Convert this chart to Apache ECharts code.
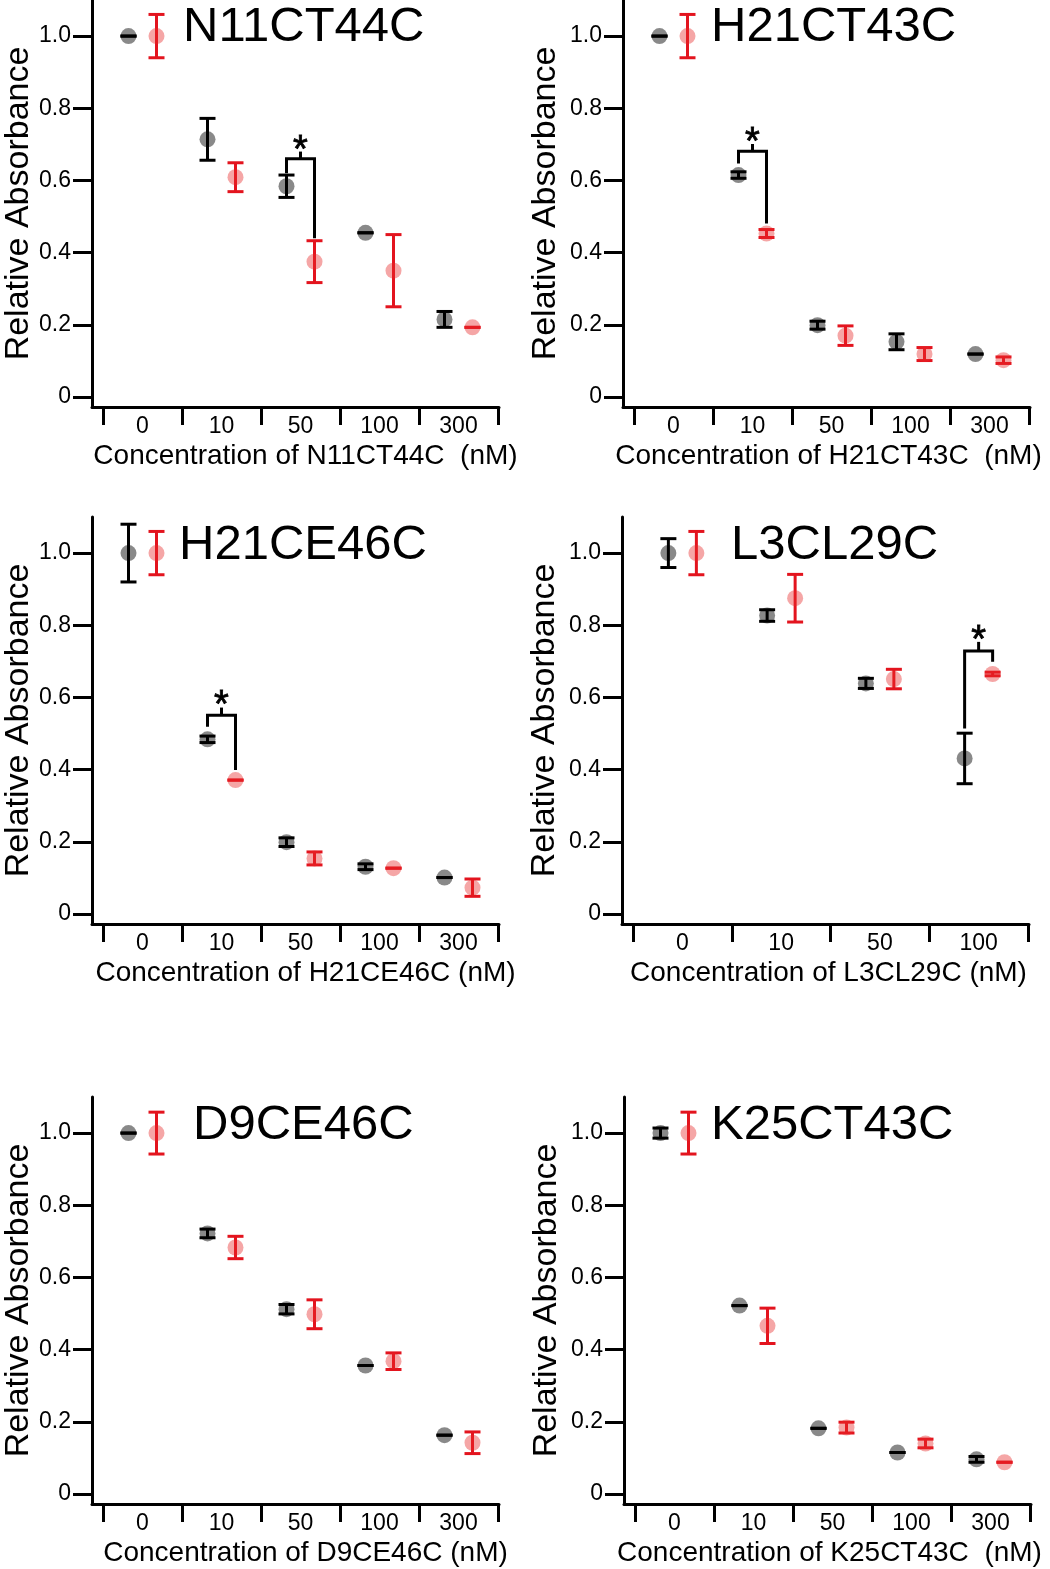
<!DOCTYPE html>
<html>
<head>
<meta charset="utf-8">
<script src="https://cdn.jsdelivr.net/npm/echarts@6/dist/echarts.min.js"></script>
<style>
html,body{margin:0;padding:0;background:#fff;}
#chart{width:1050px;height:1569px;}
</style>
</head>
<body>
<div id="chart"></div>
<script>
// ---------------- data ----------------
const yTickValues = [0, 0.2, 0.4, 0.6, 0.8, 1.0];
const catsFive = ['0', '10', '50', '100', '300'];
const catsFour = ['0', '10', '50', '100'];

// N11CT44C
const n11Names = ['N11CT44C', 'Concentration of N11CT44C  (nM)'];
const n11Black = [1.0, 0.714, 0.584, 0.455, 0.215];
const n11BlackErr = [0.0, 0.058, 0.031, 0.0, 0.022];
const n11Red = [1.0, 0.609, 0.375, 0.350, 0.193];
const n11RedErr = [0.06, 0.04, 0.058, 0.10, 0.0];
// [category index, left leg bottom, bracket top, right leg bottom, nub top, star centre]
const n11Sig = [[2, 0.62, 0.66, 0.44, 0.68, 0.705]];

// H21CT43C
const h21tNames = ['H21CT43C', 'Concentration of H21CT43C  (nM)'];
const h21tBlack = [1.0, 0.615, 0.199, 0.153, 0.119];
const h21tBlackErr = [0.0, 0.009, 0.011, 0.022, 0.0];
const h21tRed = [1.0, 0.453, 0.170, 0.119, 0.102];
const h21tRedErr = [0.06, 0.011, 0.027, 0.018, 0.009];
const h21tSig = [[1, 0.647, 0.681, 0.481, 0.701, 0.726]];

// H21CE46C
const h21eNames = ['H21CE46C', 'Concentration of H21CE46C (nM)'];
const h21eBlack = [1.0, 0.484, 0.199, 0.131, 0.101];
const h21eBlackErr = [0.08, 0.009, 0.012, 0.008, 0.0];
const h21eRed = [1.0, 0.371, 0.154, 0.127, 0.073];
const h21eRedErr = [0.06, 0.0, 0.018, 0.0, 0.024];
const h21eSig = [[1, 0.519, 0.551, 0.399, 0.572, 0.600]];

// L3CL29C
const l3Names = ['L3CL29C', 'Concentration of L3CL29C (nM)'];
const l3Black = [1.0, 0.827, 0.639, 0.431];
const l3BlackErr = [0.04, 0.016, 0.014, 0.07];
const l3Red = [1.0, 0.875, 0.651, 0.665];
const l3RedErr = [0.06, 0.066, 0.027, 0.005];
const l3Sig = [[3, 0.514, 0.729, 0.699, 0.754, 0.781]];

// D9CE46C
const d9Names = ['D9CE46C', 'Concentration of D9CE46C (nM)'];
const d9Black = [1.0, 0.722, 0.512, 0.356, 0.163];
const d9BlackErr = [0.0, 0.012, 0.013, 0.0, 0.0];
const d9Red = [1.0, 0.683, 0.498, 0.368, 0.142];
const d9RedErr = [0.058, 0.031, 0.04, 0.023, 0.03];
const d9Sig = [];

// K25CT43C
const k25Names = ['K25CT43C', 'Concentration of K25CT43C  (nM)'];
const k25Black = [1.0, 0.522, 0.182, 0.115, 0.096];
const k25BlackErr = [0.014, 0.0, 0.0, 0.0, 0.008];
const k25Red = [1.0, 0.466, 0.184, 0.140, 0.088];
const k25RedErr = [0.058, 0.049, 0.015, 0.012, 0.0];
const k25Sig = [];

// ---------------- layout / style ----------------
const FONT = '"Liberation Sans", Arial, Helvetica, sans-serif';
const GRID_W = 407, GRID_H = 407, PAD_L = 11, PAD_R = 1;
const Y_MIN = -0.0277, Y_MAX = 1.1;
const DOT_OFF = 14;
const BLACK_DOT = 'rgba(0,0,0,0.58)';
const RED_DOT = 'rgba(232,40,40,0.52)';
const RED_BAR = '#e3141e';

const panels = [
  {names: n11Names, cats: catsFive, b: n11Black, be: n11BlackErr, r: n11Red, re: n11RedErr, sig: n11Sig,
   left: 92, top: 0, tl: 183, tt: 3, yGap: 56, xPad: 20},
  {names: h21tNames, cats: catsFive, b: h21tBlack, be: h21tBlackErr, r: h21tRed, re: h21tRedErr, sig: h21tSig,
   left: 623, top: 0, tl: 711, tt: 3, yGap: 60, xPad: 4},
  {names: h21eNames, cats: catsFive, b: h21eBlack, be: h21eBlackErr, r: h21eRed, re: h21eRedErr, sig: h21eSig,
   left: 92, top: 517, tl: 179, tt: 521, yGap: 56, xPad: 20},
  {names: l3Names, cats: catsFour, b: l3Black, be: l3BlackErr, r: l3Red, re: l3RedErr, sig: l3Sig,
   left: 622, top: 517, tl: 731, tt: 521, yGap: 60, xPad: 6},
  {names: d9Names, cats: catsFive, b: d9Black, be: d9BlackErr, r: d9Red, re: d9RedErr, sig: d9Sig,
   left: 92, top: 1097, tl: 193, tt: 1101, yGap: 56, xPad: 20},
  {names: k25Names, cats: catsFive, b: k25Black, be: k25BlackErr, r: k25Red, re: k25RedErr, sig: k25Sig,
   left: 624, top: 1097, tl: 711, tt: 1101, yGap: 60, xPad: 4}
];

function errRender(color, offsetPx) {
  return function (params, api) {
    const idx = api.value(0), m = api.value(1), e = api.value(2);
    const pTop = api.coord([idx, m + e]);
    const pBot = api.coord([idx, m - e]);
    const x = pTop[0] + offsetPx;
    const hw = 8;
    const style = {stroke: color, lineWidth: 3, fill: null};
    return {type: 'group', children: [
      {type: 'line', shape: {x1: x, y1: pTop[1], x2: x, y2: pBot[1]}, style: style},
      {type: 'line', shape: {x1: x - hw, y1: pTop[1], x2: x + hw, y2: pTop[1]}, style: style},
      {type: 'line', shape: {x1: x - hw, y1: pBot[1], x2: x + hw, y2: pBot[1]}, style: style}
    ]};
  };
}

function sigRender(params, api) {
  const idx = api.value(0);
  const cx = api.coord([idx, api.value(2)])[0];
  const yl = api.coord([idx, api.value(1)])[1];
  const yt = api.coord([idx, api.value(2)])[1];
  const yr = api.coord([idx, api.value(3)])[1];
  const yn = api.coord([idx, api.value(4)])[1];
  const ys = api.coord([idx, api.value(5)])[1];
  const xl = cx - DOT_OFF, xr = cx + DOT_OFF;
  return {type: 'group', children: [
    {type: 'polyline', shape: {points: [[xl, yl], [xl, yt], [xr, yt], [xr, yr]]},
     style: {stroke: '#000', lineWidth: 3, fill: null, lineJoin: 'miter'}},
    {type: 'line', shape: {x1: cx, y1: yt, x2: cx, y2: yn}, style: {stroke: '#000', lineWidth: 3}},
    {type: 'text', x: cx, y: ys + 9,
     style: {text: '*', fontSize: 38, fontFamily: FONT, fill: '#000', stroke: '#000', lineWidth: 0.8,
       align: 'center', verticalAlign: 'middle'}}
  ]};
}

const option = {
  animation: false,
  backgroundColor: '#fff',
  textStyle: {fontFamily: FONT},
  title: [], grid: [], xAxis: [], yAxis: [], series: []
};

panels.forEach(function (p, i) {
  const n = p.cats.length;
  const band = (GRID_W - PAD_L - PAD_R) / n;
  const xMin = -0.5 - PAD_L / band;
  const xMax = n - 0.5 + PAD_R / band;
  const off = DOT_OFF;
  const tickVals = [], labelVals = [];
  for (let k = 0; k <= n; k++) tickVals.push(k - 0.5);
  for (let k = 0; k < n; k++) labelVals.push(k);

  option.title.push({
    text: p.names[0], left: p.tl, top: p.tt, padding: 0,
    textStyle: {fontSize: 49, fontWeight: 'normal', color: '#000', fontFamily: FONT}
  });
  option.grid.push({left: p.left, top: p.top, width: GRID_W, height: GRID_H, containLabel: false});
  const cats = p.cats;
  option.xAxis.push({
    type: 'value', gridIndex: i, min: xMin, max: xMax,
    axisLine: {show: true, onZero: false, lineStyle: {color: '#000', width: 3}},
    axisTick: {show: true, length: 18, customValues: tickVals, lineStyle: {color: '#000', width: 3}},
    axisLabel: {customValues: labelVals, formatter: function (v) { return cats[Math.round(v)]; },
      margin: 8, fontSize: 23, color: '#000', fontFamily: FONT},
    splitLine: {show: false},
    name: p.names[1], nameLocation: 'middle', nameGap: 35,
    nameTextStyle: {fontSize: 28, color: '#000', fontFamily: FONT, padding: [0, 0, 0, p.xPad]}
  });
  option.yAxis.push({
    type: 'value', gridIndex: i, min: Y_MIN, max: Y_MAX,
    axisLine: {show: true, onZero: false, lineStyle: {color: '#000', width: 3}},
    axisTick: {show: true, length: 19, customValues: yTickValues, lineStyle: {color: '#000', width: 3}},
    axisLabel: {customValues: yTickValues, formatter: function (v) { return v === 0 ? '0' : v.toFixed(1); },
      margin: 21, fontSize: 23, color: '#000', fontFamily: FONT},
    splitLine: {show: false},
    name: 'Relative Absorbance', nameLocation: 'middle', nameGap: p.yGap,
    nameTextStyle: {fontSize: 34, color: '#000', fontFamily: FONT}
  });

  const bData = p.b.map(function (v, k) { return [k, v, p.be[k]]; });
  const rData = p.r.map(function (v, k) { return [k, v, p.re[k]]; });

  option.series.push({
    type: 'custom', xAxisIndex: i, yAxisIndex: i, renderItem: errRender('#000', -off),
    data: bData, z: 2, silent: true
  });
  option.series.push({
    type: 'custom', xAxisIndex: i, yAxisIndex: i, renderItem: errRender(RED_BAR, off),
    data: rData, z: 2, silent: true
  });
  option.series.push({
    type: 'scatter', xAxisIndex: i, yAxisIndex: i, symbol: 'circle', symbolSize: 16,
    symbolOffset: [-off, 0], itemStyle: {color: BLACK_DOT}, data: p.b.map(function (v, k) { return [k, v]; }), z: 3
  });
  option.series.push({
    type: 'scatter', xAxisIndex: i, yAxisIndex: i, symbol: 'circle', symbolSize: 16,
    symbolOffset: [off, 0], itemStyle: {color: RED_DOT}, data: p.r.map(function (v, k) { return [k, v]; }), z: 3
  });
  if (p.sig.length) {
    option.series.push({
      type: 'custom', xAxisIndex: i, yAxisIndex: i, renderItem: sigRender,
      data: p.sig, z: 4, silent: true
    });
  }
});

const chart = echarts.init(document.getElementById('chart'), null, {renderer: 'canvas'});
chart.setOption(option);
</script>
</body>
</html>
